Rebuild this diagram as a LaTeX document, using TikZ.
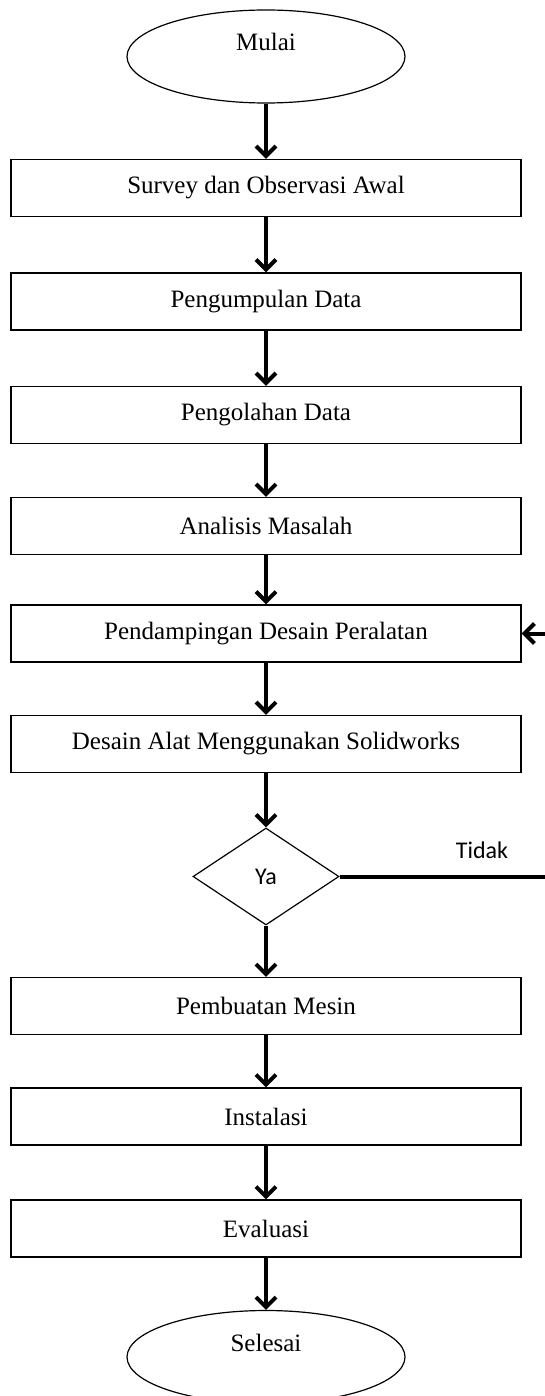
\documentclass[tikz,border=0pt]{standalone}
\usepackage{fontspec}
\setmainfont{Liberation Serif}
\newfontfamily\calibri{Carlito}
\usetikzlibrary{shapes.geometric, arrows.meta}

\begin{document}
\begin{tikzpicture}[x=0.5pt, y=-0.5pt,
    >={Straight Barb[length=5pt, width=10pt]},
    font=\fontsize{12.5}{14}\selectfont,
    process/.style={draw, line width=0.6pt, rectangle, minimum width=255pt, minimum height=28.5pt, inner sep=0pt},
    terminal/.style={draw, line width=0.6pt, ellipse, minimum width=139pt, minimum height=46.5pt, inner sep=0pt, text height=8pt, text depth=14pt},
    decision/.style={draw, line width=0.6pt, diamond, minimum width=73pt, minimum height=48.5pt, inner sep=0pt, font=\calibri\fontsize{12}{14}\selectfont},
    flow/.style={line width=2pt}]
  \useasboundingbox (0, 0) rectangle (545, 1396);

  \node[terminal] (mulai) at (266, 56.5) {Mulai};
  \node[process] (survey) at (266, 188) {Survey dan Observasi Awal};
  \node[process] (kumpul) at (266, 301.5) {Pengumpulan Data};
  \node[process] (olah) at (266, 415) {Pengolahan Data};
  \node[process] (analisis) at (266, 526) {Analisis Masalah};
  \node[process] (damping) at (266, 633.5) {Pendampingan Desain Peralatan};
  \node[process] (desain) at (266, 744) {Desain Alat Menggunakan Solidworks};
  \node[decision] (cek) at (266, 876.5) {Ya};
  \node[process] (buat) at (266, 1006) {Pembuatan Mesin};
  \node[process] (instal) at (266, 1116.5) {Instalasi};
  \node[process] (eval) at (266, 1228.5) {Evaluasi};
  \node[terminal] (selesai) at (266, 1357) {Selesai};

  \draw[flow,->] (mulai) -- (survey);
  \draw[flow,->] (survey) -- (kumpul);
  \draw[flow,->] (kumpul) -- (olah);
  \draw[flow,->] (olah) -- (analisis);
  \draw[flow,->] (analisis) -- (damping);
  \draw[flow,->] (damping) -- (desain);
  \draw[flow,->] (desain) -- (cek);
  \draw[flow,->] (cek) -- (buat);
  \draw[flow,->] (buat) -- (instal);
  \draw[flow,->] (instal) -- (eval);
  \draw[flow,->] (eval) -- (selesai);

  % jalur Tidak, keluar dari tepi gambar
  \coordinate (tidakujung) at (545, 876.5);
  \coordinate (balikujung) at (545, 633.5);
  \draw[flow] (cek.east) -- (tidakujung);
  \node[font=\calibri\fontsize{12}{14}\selectfont] (tidak) at (482, 850) {Tidak};
  \draw[flow,->] (balikujung) -- (damping.east);
\end{tikzpicture}
\end{document}
